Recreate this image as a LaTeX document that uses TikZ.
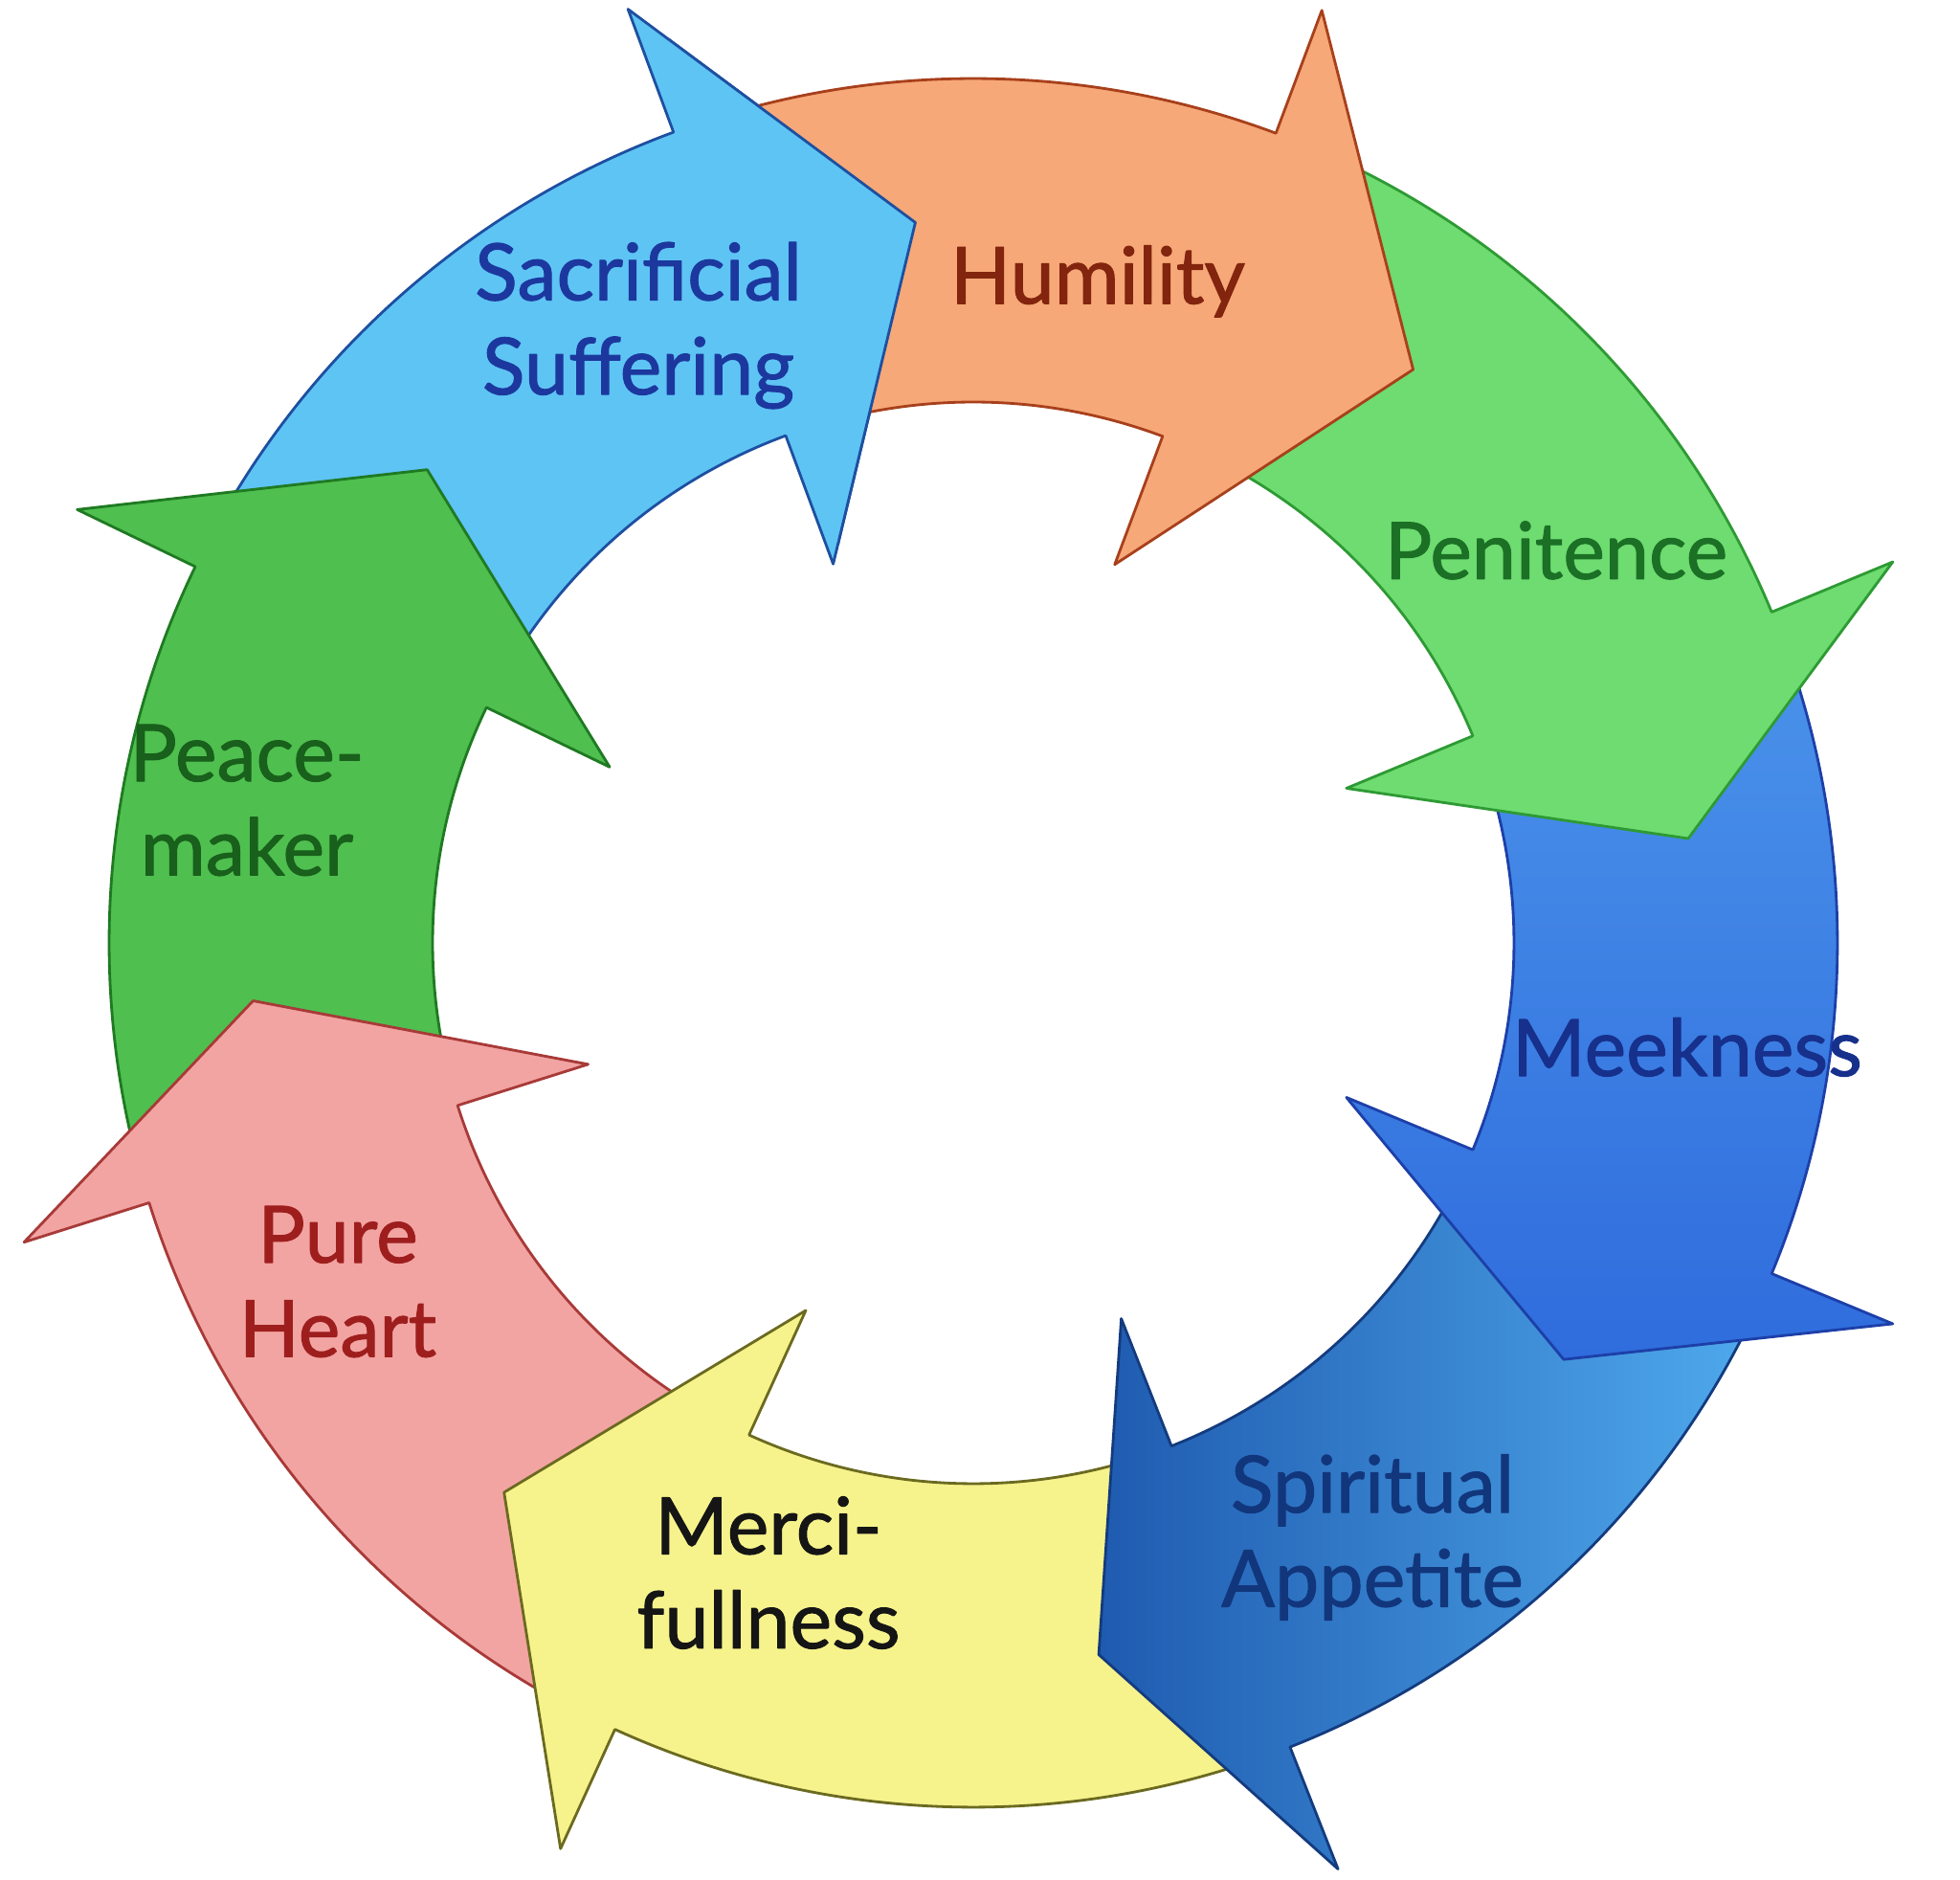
\documentclass[tikz,border=0pt]{standalone}
\usepackage{fontspec}
\setmainfont{Lato}
\newfontfamily\labelfont{Lato}[FakeBold=1.2]

\definecolor{humfill}{HTML}{F6A878}
\definecolor{humline}{HTML}{A8401C}
\definecolor{humtext}{HTML}{82240E}
\definecolor{penfill}{HTML}{6EDC70}
\definecolor{penline}{HTML}{2E9A34}
\definecolor{pentext}{HTML}{1B7026}
\definecolor{meekfill}{HTML}{4A92EA}
\definecolor{meekdark}{HTML}{2F6CDD}
\definecolor{meekline}{HTML}{1D3FA8}
\definecolor{meektext}{HTML}{16308C}
\definecolor{spirfill}{HTML}{4FA9EC}
\definecolor{spirdark}{HTML}{1F5BB0}
\definecolor{spirline}{HTML}{143B7E}
\definecolor{spirtext}{HTML}{12367C}
\definecolor{mercfill}{HTML}{F6F38C}
\definecolor{mercline}{HTML}{6B6A20}
\definecolor{merctext}{HTML}{151515}
\definecolor{purefill}{HTML}{F2A4A2}
\definecolor{pureline}{HTML}{A83A38}
\definecolor{puretext}{HTML}{9E1E1E}
\definecolor{peacefill}{HTML}{4FBF4F}
\definecolor{peaceline}{HTML}{1F7A22}
\definecolor{peacetext}{HTML}{18601B}
\definecolor{sacrfill}{HTML}{5EC4F4}
\definecolor{sacrline}{HTML}{1E4FA0}
\definecolor{sacrtext}{HTML}{1C389E}

% curved arrow of the ring: tail angle, head base angle, tip angle
\newcommand{\ringarrow}[3]{%
  (#1:9.03) arc[start angle=#1, end angle=#2, radius=9.03]
  -- (#2:10.4) -- (#3:7.55) -- (#2:4.22) -- (#2:5.65)
  arc[start angle=#2, end angle=#1, radius=5.65] -- cycle}

\begin{document}
\begin{tikzpicture}
        [
            line join            = round,
            outlined/.style      = {line width=0.8pt},
            humarrow/.style      = {outlined, fill=humfill, draw=humline},
            penarrow/.style      = {outlined, fill=penfill, draw=penline},
            meekarrow/.style     = {outlined, top color=meekfill, bottom color=meekdark, draw=meekline},
            spirarrow/.style     = {outlined, left color=spirdark, right color=spirfill, draw=spirline},
            mercarrow/.style     = {outlined, fill=mercfill, draw=mercline},
            purearrow/.style     = {outlined, fill=purefill, draw=pureline},
            peacearrow/.style    = {outlined, fill=peacefill, draw=peaceline},
            sacrarrow/.style     = {outlined, fill=sacrfill, draw=sacrline},
            label/.style         = {align=center, font=\labelfont\fontsize{23.5}{28}\selectfont},
        ]
        \useasboundingbox (-10.17,-9.79) rectangle (10.31,9.85);

        % drawn against the cycle, so that every head lies on the next tail
        \foreach \kind/\tail/\base/\tip in {
            sacrarrow/-208.8/-249.7/-265.4,
            peacearrow/-165.5/-205.8/-220.9,
            purearrow/-117.5/-162.5/-175.4,
            mercarrow/-71.5/-114.5/-130.5,
            spirarrow/-25.5/-68.5/-80,
            meekarrow/19.5/-22.5/-35.2,
            penarrow/66.5/22.5/8.3,
            humarrow/107.3/69.5/52.5}
            \path [\kind] \ringarrow{\tail}{\base}{\tip};

        % head of the last arrow over the tail of the first
        \begin{scope}
            \clip (0,0) -- (86:13) -- (97:13) -- (108.6:13) -- cycle;
            \path [sacrarrow] \ringarrow{-208.8}{-249.7}{-265.4};
        \end{scope}

        \node [label, text=humtext]   (humility)   at (1.30,6.91)   {Humility};
        \node [label, text=pentext]   (penitence)  at (6.09,4.10)   {Penitence};
        \node [label, text=meektext]  (meekness)   at (7.46,-1.09)  {Meekness};
        \node [label, text=spirtext]  (appetite)   at (4.17,-6.21)  {Spiritual\\Appetite};
        \node [label, text=merctext]  (mercy)      at (-2.14,-6.58) {Merci-\\fullness};
        \node [label, text=puretext]  (pureheart)  at (-6.64,-3.54) {Pure\\Heart};
        \node [label, text=peacetext] (peacemaker) at (-7.59,1.49)  {Peace-\\maker};
        \node [label, text=sacrtext]  (suffering)  at (-3.50,6.45)  {Sacrificial\\Suffering};
    \end{tikzpicture}
\end{document}
